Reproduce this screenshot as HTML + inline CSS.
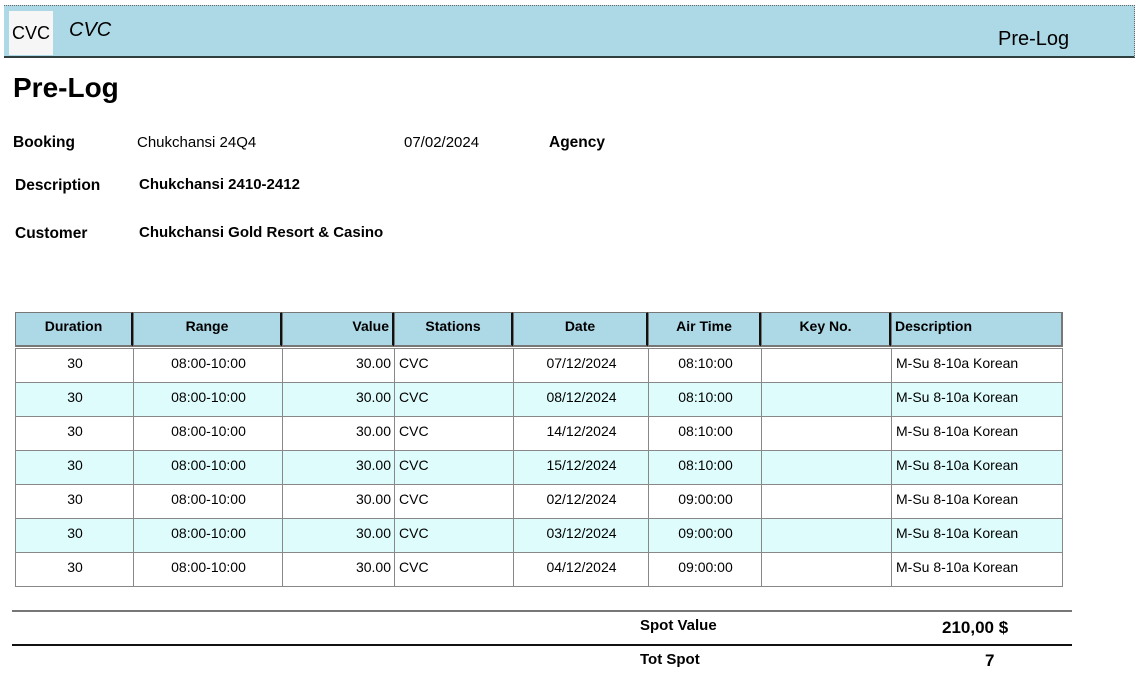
<!DOCTYPE html>
<html><head><meta charset="utf-8">
<style>
body{margin:0;width:1142px;height:700px;background:#fff;position:relative;overflow:hidden;font-family:"Liberation Sans",Arial,sans-serif;color:#000}
.a{position:absolute;white-space:nowrap}
.b{font-weight:bold}
.cell{position:absolute;box-sizing:border-box;font-size:14px;line-height:14px;white-space:nowrap}
</style></head>
<body>
<div class="a" style="left:4px;top:5px;width:1130px;height:50px;background:#add8e6;border-bottom:2px solid #2f3f3f;border-top:1px dotted #666;border-right:1px dotted #666"></div>
<div class="a" style="left:9px;top:11px;width:44px;height:44px;background:#f6f6f6;font-size:18px;line-height:44px;text-align:center">CVC</div>
<div class="a" style="left:69px;top:19px;font-size:20px;font-style:italic">CVC</div>
<div class="a" style="left:998px;top:28px;font-size:20px">Pre-Log</div>
<div class="a b" style="left:13px;top:72px;font-size:28px">Pre-Log</div>
<div class="a b" style="left:13px;top:134px;font-size:15.5px">Booking</div>
<div class="a" style="left:137px;top:134px;font-size:15px">Chukchansi 24Q4</div>
<div class="a" style="left:404px;top:134px;font-size:15px">07/02/2024</div>
<div class="a b" style="left:549px;top:134px;font-size:15.5px">Agency</div>
<div class="a b" style="left:15px;top:177px;font-size:15.5px">Description</div>
<div class="a b" style="left:139px;top:176px;font-size:15px">Chukchansi 2410-2412</div>
<div class="a b" style="left:15px;top:225px;font-size:15.5px">Customer</div>
<div class="a b" style="left:139px;top:224px;font-size:15px">Chukchansi Gold Resort &amp; Casino</div>
<div id="tbl"></div>
<div class="a" style="left:12px;top:610px;width:1060px;height:0;border-top:2px solid #777"></div>
<div class="a" style="left:12px;top:644px;width:1060px;height:0;border-top:2px solid #111"></div>
<div class="a b" style="left:640px;top:617px;font-size:15px">Spot Value</div>
<div class="a b" style="left:942px;top:618px;font-size:17px">210,00 $</div>
<div class="a b" style="left:640px;top:651px;font-size:15px">Tot Spot</div>
<div class="a b" style="left:985px;top:651px;font-size:17px">7</div>
<script>
const headers=["Duration","Range","Value","Stations","Date","Air Time","Key No.","Description"];
const durations=["30","30","30","30","30","30","30"];
const ranges=["08:00-10:00","08:00-10:00","08:00-10:00","08:00-10:00","08:00-10:00","08:00-10:00","08:00-10:00"];
const values=["30.00","30.00","30.00","30.00","30.00","30.00","30.00"];
const stations=["CVC","CVC","CVC","CVC","CVC","CVC","CVC"];
const dates=["07/12/2024","08/12/2024","14/12/2024","15/12/2024","02/12/2024","03/12/2024","04/12/2024"];
const airTimes=["08:10:00","08:10:00","08:10:00","08:10:00","09:00:00","09:00:00","09:00:00"];
const keyNos=["","","","","","",""];
const descs=["M-Su 8-10a Korean","M-Su 8-10a Korean","M-Su 8-10a Korean","M-Su 8-10a Korean","M-Su 8-10a Korean","M-Su 8-10a Korean","M-Su 8-10a Korean"];
const xs=[15,133,282,394,513,648,761,891,1062];
const aligns=["center","center","right","left","center","center","center","left"];
const hAligns=["center","center","right","center","center","center","center","left"];
const tbl=document.getElementById('tbl');
for(let c=0;c<8;c++){
  const d=document.createElement('div');
  d.className='cell b';
  
  
  const rb=c<7?'3px solid #111':'2px solid #777';
  d.style.cssText=`left:${xs[c]}px;top:312px;width:${xs[c+1]-xs[c]+1}px;height:35px;background:#add8e6;border:1px solid #777;border-right:${rb};border-bottom:2px solid #777;padding:6px 3px 0 3px;text-align:${hAligns[c]}`;
  d.textContent=headers[c];
  tbl.appendChild(d);
}
const cols=[durations,ranges,values,stations,dates,airTimes,keyNos,descs];
for(let r=0;r<durations.length;r++){
  const y=348+r*34;
  for(let c=0;c<8;c++){
    const d=document.createElement('div');
    d.className='cell';
    
    
    d.style.cssText=`left:${xs[c]}px;top:${y}px;width:${xs[c+1]-xs[c]+1}px;height:35px;background:${r%2?'#dffcfd':'#fff'};border:1px solid #888;padding:7px 3px 0 4px;text-align:${aligns[c]}`;
    d.textContent=cols[c][r];
    tbl.appendChild(d);
  }
}
</script>
</body></html>
